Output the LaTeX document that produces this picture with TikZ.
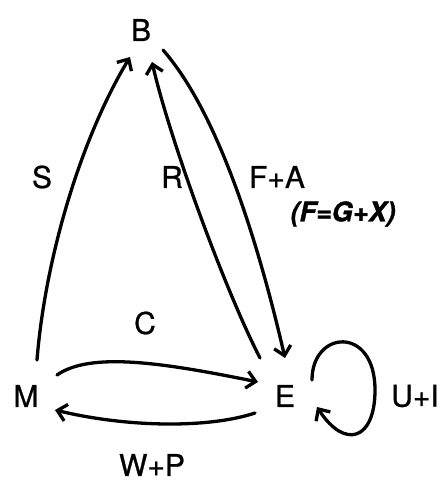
\documentclass[tikz,border=0pt]{standalone}
\usepackage{fontspec}
\setmainfont{TeX Gyre Heros}[FakeBold=0.8]
\newfontfamily\handfont{TeX Gyre Heros}[FakeBold=1.2]
\usetikzlibrary{arrows.meta}
\begin{document}
\begin{tikzpicture}[x=1pt,y=-1pt,
  lbl/.style={font=\fontsize{30}{34}\selectfont, inner sep=0pt},
  hand/.style={font=\fontsize{27}{30}\handfont\itshape\bfseries, inner sep=0pt},
  conn/.style={line width=3.3pt, line cap=round, -{Straight Barb[length=9pt,width=17pt,line width=3.3pt]}}]
\useasboundingbox (0,0) rectangle (444,484);
\fill[white] (0,0) rectangle (444,484);
% main nodes
\node[lbl] (B) at (141,30) {B};
\node[lbl] (M) at (26,396) {M};
\node[lbl] (E) at (285,396) {E};
% labels
\node[lbl] (lS) at (42,177) {S};
\node[lbl] (lR) at (172,177) {R};
\node[lbl] (lFA) at (277,177) {F+A};
\node[hand] (lFG) at (343,214) {(F=G+X)};
\node[lbl] (lC) at (145,323) {C};
\node[lbl] (lWP) at (152,465) {W+P};
\node[lbl] (lUI) at (415,396) {U+I};
% connectors
\draw[conn] ([shift={(11,-36)}]M.center) .. controls (45,260) and (80,140) .. ([shift={(-11,27)}]B.center);
\draw[conn] ([shift={(-25,-38)}]E.center) .. controls (225,290) and (170,140) .. ([shift={(11,32)}]B.center);
\draw[conn] ([shift={(22,20)}]B.center) .. controls (220,115) and (260,250) .. ([shift={(0,-38)}]E.center);
\draw[conn] ([shift={(31,-21)}]M.center) .. controls (90,352) and (160,362) .. ([shift={(-27,-14)}]E.center);
\draw[conn] ([shift={(-30,17)}]E.center) .. controls (210,428) and (130,428) .. ([shift={(29,14)}]M.center);
\draw[conn] ([shift={(27,-16)}]E.center) .. controls (312,330) and (375,325) .. (375,390) .. controls (375,440) and (345,450) .. ([shift={(32,11)}]E.center);
\end{tikzpicture}
\end{document}
